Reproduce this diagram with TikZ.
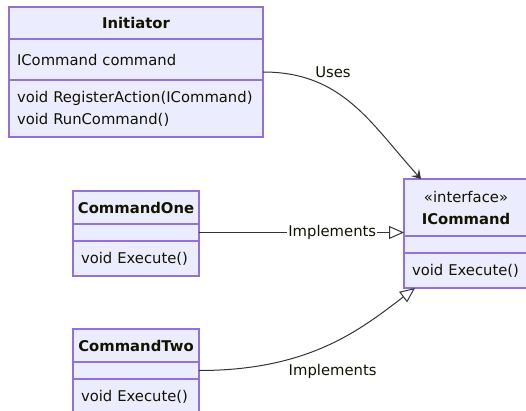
\documentclass[tikz,border=0pt]{standalone}
\usepackage{fontspec}
\setmainfont{DejaVu Sans}
\usepackage{tikz}
\usetikzlibrary{arrows.meta,positioning}

\definecolor{umlfill}{HTML}{ECECFF}
\definecolor{umlline}{HTML}{9370DB}
\definecolor{edgeline}{HTML}{333333}
\definecolor{umltext}{HTML}{131300}
\newcommand{\umlfont}{\fontsize{14.8}{22}\selectfont}

\tikzset{
  part/.style={draw=umlline, fill=umlfill, line width=1.2pt, outer sep=0pt,
    inner xsep=8pt, inner ysep=0pt, text=umltext},
  head/.style={part, inner xsep=0pt, font=\umlfont\bfseries, align=center},
  body/.style={part, font=\umlfont, align=left},
  lbl/.style={fill=white, inner sep=1pt, text=umltext, font=\umlfont},
  uses/.style={draw=edgeline, line width=1pt,
    -{Stealth[length=9pt,width=11pt,inset=4pt]}},
  impl/.style={draw=edgeline, line width=1pt,
    -{Triangle[open,length=15pt,width=13pt,fill=white]}},
}

\begin{document}
\begin{tikzpicture}
  [x=1pt, y=-1pt, node distance=0pt]
  \useasboundingbox (0,0) rectangle (526,411);

  % classes
  \node (init) [head, minimum width=254, minimum height=32] at (136,23) {Initiator};
  \node (initA) [body, below=of init, text width=238, minimum height=41] {ICommand command};
  \node (initM) [body, below=of initA, text width=238, minimum height=57]
    {void RegisterAction(ICommand)\\void RunCommand()};

  \node (cone) [head, minimum width=126, minimum height=33] at (136,207.5) {CommandOne};
  \node (coneA) [body, below=of cone, text width=110, minimum height=17] {};
  \node (coneM) [body, below=of coneA, text width=110, minimum height=35] {void Execute()};

  \node (ctwo) [head, minimum width=126, minimum height=33] at (136,345.5) {CommandTwo};
  \node (ctwoA) [body, below=of ctwo, text width=110, minimum height=17] {};
  \node (ctwoM) [body, below=of ctwoA, text width=110, minimum height=35] {void Execute()};

  \node (icmd) [head, minimum width=124, minimum height=57] at (466,207.5)
    {{\mdseries «interface»}\\ICommand};
  \node (icmdA) [body, below=of icmd, text width=108, minimum height=17] {};
  \node (icmdM) [body, below=of icmdA, text width=108, minimum height=35] {void Execute()};

  % relations
  \draw[uses] ([yshift=8pt]initA.south east) .. controls +(80,0) and +(-50,-55) .. ([xshift=-45pt]icmd.north)
    node[lbl, pos=0.3, xshift=10pt, yshift=12.7pt] {Uses};
  \draw[impl] (coneA.east) -- node[lbl, pos=0.65] {Implements} (coneA.east -| icmd.west);
  \draw[impl] (ctwoA.east) .. controls +(110,0) and +(-55,42) .. ([xshift=-51pt]icmdM.south)
    node[lbl, pos=0.5, xshift=5pt, yshift=-26pt] {Implements};
\end{tikzpicture}
\end{document}
